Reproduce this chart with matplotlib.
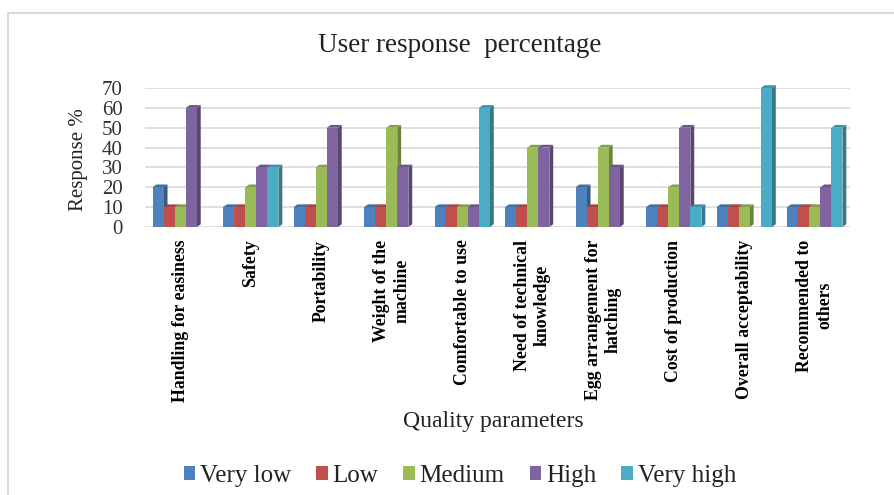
import matplotlib
matplotlib.use("Agg")
import matplotlib.pyplot as plt
import numpy as np
from matplotlib.patches import Polygon, Rectangle, Patch
from matplotlib.colors import to_rgb

plt.rcParams['font.family'] = ['Liberation Serif', 'DejaVu Serif']

categories = ["Handling for easiness", "Safety", "Portability", "Weight of the\nmachine",
              "Comfortable to use", "Need of technical\nknowledge", "Egg arrangement for\nhatching",
              "Cost of production", "Overall acceptability", "Recommended to\nothers"]
series_names = ["Very low", "Low", "Medium", "High", "Very high"]
very_low  = [20, 10, 10, 10, 10, 10, 20, 10, 10, 10]
low       = [10, 10, 10, 10, 10, 10, 10, 10, 10, 10]
medium    = [10, 20, 30, 50, 10, 40, 40, 20, 10, 10]
high      = [60, 30, 50, 30, 10, 40, 30, 50, 0, 20]
very_high = [0, 30, 0, 0, 60, 0, 0, 10, 70, 50]
yticks = [0, 10, 20, 30, 40, 50, 60, 70]

series = [very_low, low, medium, high, very_high]
colors = ["#4F81BD", "#C0504D", "#9BBB59", "#8064A2", "#4BACC6"]

W, H = 895, 495
fig = plt.figure(figsize=(W / 100, H / 100), dpi=100)
ax = fig.add_axes([145 / W, 1 - 227 / H, (850 - 145) / W, (227 - 88) / H])

x = np.arange(len(categories))
w = 0.157
dx, dy = 0.055, 1.4


def shade(c, f):
    r, g, b = to_rgb(c)
    return (r * f, g * f, b * f)


for j, (vals, col) in enumerate(zip(series, colors)):
    base_z = 3 + j * 3
    for i, v in enumerate(vals):
        if v <= 0:
            continue
        xc = x[i] + (j - 2) * w
        xl, xr = xc - w / 2, xc + w / 2
        side = Polygon([(xr, 0), (xr + dx, dy), (xr + dx, v + dy), (xr, v)],
                       closed=True, facecolor=shade(col, 0.7), edgecolor='none',
                       zorder=base_z, clip_on=False)
        top = Polygon([(xl, v), (xl + dx, v + dy), (xr + dx, v + dy), (xr, v)],
                      closed=True, facecolor=shade(col, 0.85), edgecolor='none',
                      zorder=base_z, clip_on=False)
        ax.add_patch(side)
        ax.add_patch(top)
    bars = ax.bar(x + (j - 2) * w, vals, width=w, color=col, zorder=base_z + 1, linewidth=0)
    for b in bars:
        b.set_clip_on(False)

ax.set_xlim(-0.5, len(categories) - 0.5)
ax.set_ylim(0, 70)
ax.set_yticks(yticks)
ax.set_yticklabels([str(t) for t in yticks], fontsize=15)
ax.yaxis.grid(True, color="#d9d9d9", linewidth=1.2, zorder=0)
ax.set_axisbelow(True)
ax.tick_params(axis='y', length=0, pad=16, colors='#333333')
ax.set_xticks(x)
ax.set_xticklabels(categories, rotation=90, fontsize=12.8, fontweight='bold',
                   multialignment='center', va='top', ha='center')
ax.tick_params(axis='x', length=0, pad=9)
for s in ax.spines.values():
    s.set_visible(False)
ax.set_facecolor('none')

fig.text(460 / W, 1 - 45 / H, "User response  percentage", fontsize=19.5, ha='center', va='center', color='#222222')
fig.text(78 / W, 1 - 160 / H, "Response %", fontsize=15, rotation=90, ha='center', va='center', color='#222222')
fig.text(493 / W, 1 - 421 / H, "Quality parameters", fontsize=17, ha='center', va='center', color='#222222')

handles = [Patch(facecolor=c, edgecolor='none') for c in colors]
fig.legend(handles, series_names, loc='center', bbox_to_anchor=(460 / W, 1 - 476 / H), ncol=5,
           frameon=False, fontsize=18, handlelength=0.45, handleheight=0.45, handletextpad=0.2,
           columnspacing=1.0, labelcolor='#222222')

fig.add_artist(Rectangle((8 / W, -0.2), 1.2, 1.2 - 13 / H, transform=fig.transFigure,
                         facecolor='none', edgecolor='#d9d9d9', linewidth=1.5))

fig.savefig("out.png", dpi=100)
